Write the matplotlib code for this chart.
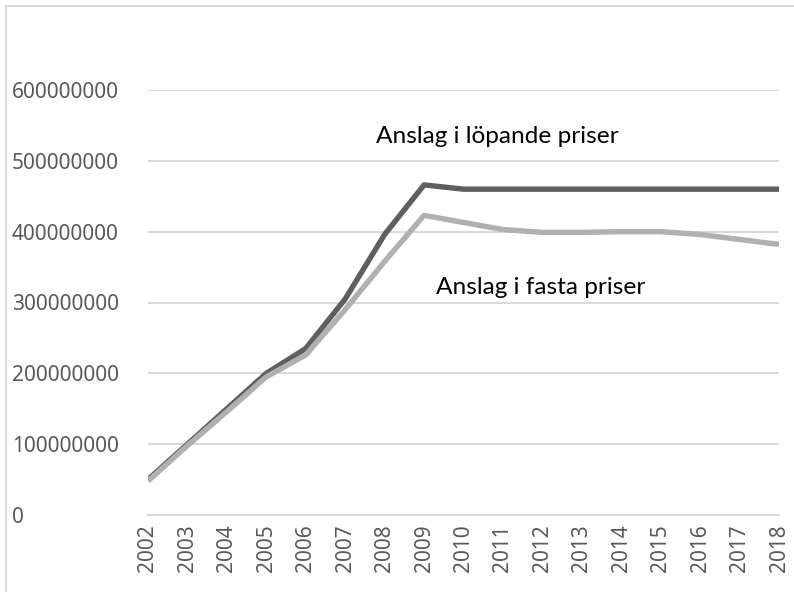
import matplotlib.pyplot as plt
from matplotlib.patches import Rectangle

# Data
years = list(range(2002, 2019))
lopande = [50e6, 100e6, 150e6, 200e6, 235e6, 305e6, 396e6, 466e6, 460e6,
           460e6, 460e6, 460e6, 460e6, 460e6, 460e6, 460e6, 460e6]
fasta = [48e6, 98e6, 146e6, 195e6, 226e6, 290e6, 358e6, 423e6, 413e6,
         403e6, 399e6, 399e6, 400e6, 400e6, 396e6, 389e6, 382e6]
yticks = [0, 100e6, 200e6, 300e6, 400e6, 500e6, 600e6]

fig = plt.figure(figsize=(7.94, 5.92), dpi=100)
ax = fig.add_axes([148 / 794, 77 / 592, 631 / 794, 425 / 592])

ax.plot(years, lopande, color='#5f5f5f', lw=3.9, solid_capstyle='butt', zorder=3)
ax.plot(years, fasta, color='#b0b0b0', lw=3.9, solid_capstyle='butt', zorder=3)

ax.set_xlim(2002, 2018)
ax.set_ylim(0, 600e6)
ax.set_yticks(yticks)
ax.set_yticklabels([str(int(v)) for v in yticks])
ax.set_xticks(years)
ax.set_xticklabels([str(y) for y in years], rotation=90)
ax.grid(axis='y', color='#d9d9d9', lw=1.5)
ax.set_axisbelow(True)
for s in ['top', 'right', 'left']:
    ax.spines[s].set_visible(False)
ax.spines['bottom'].set_color('#d9d9d9')
ax.spines['bottom'].set_linewidth(1.5)
ax.tick_params(length=0, labelcolor='#595959', labelsize=15)
ax.tick_params(axis='x', pad=7)
for lab in ax.get_yticklabels() + ax.get_xticklabels():
    lab.set_family('Noto Sans')
for lab in ax.get_yticklabels():
    lab.set_horizontalalignment('left')
    lab.set_x(-136 / 631)
ax.tick_params(axis='y', pad=0)

ax.text(2010.87, 534e6, 'Anslag i löpande priser', ha='center', va='center',
        fontsize=17.6, family='Lato', color='black')
ax.text(2011.96, 321e6, 'Anslag i fasta priser', ha='center', va='center',
        fontsize=17.6, family='Lato', color='black')

# chart border
fig.add_artist(Rectangle((6 / 794, -0.1), 1.0, 1.1 - 6 / 592,
                         transform=fig.transFigure, fill=False,
                         edgecolor='#d9d9d9', lw=1.5))

fig.savefig('out.png', dpi=100)
